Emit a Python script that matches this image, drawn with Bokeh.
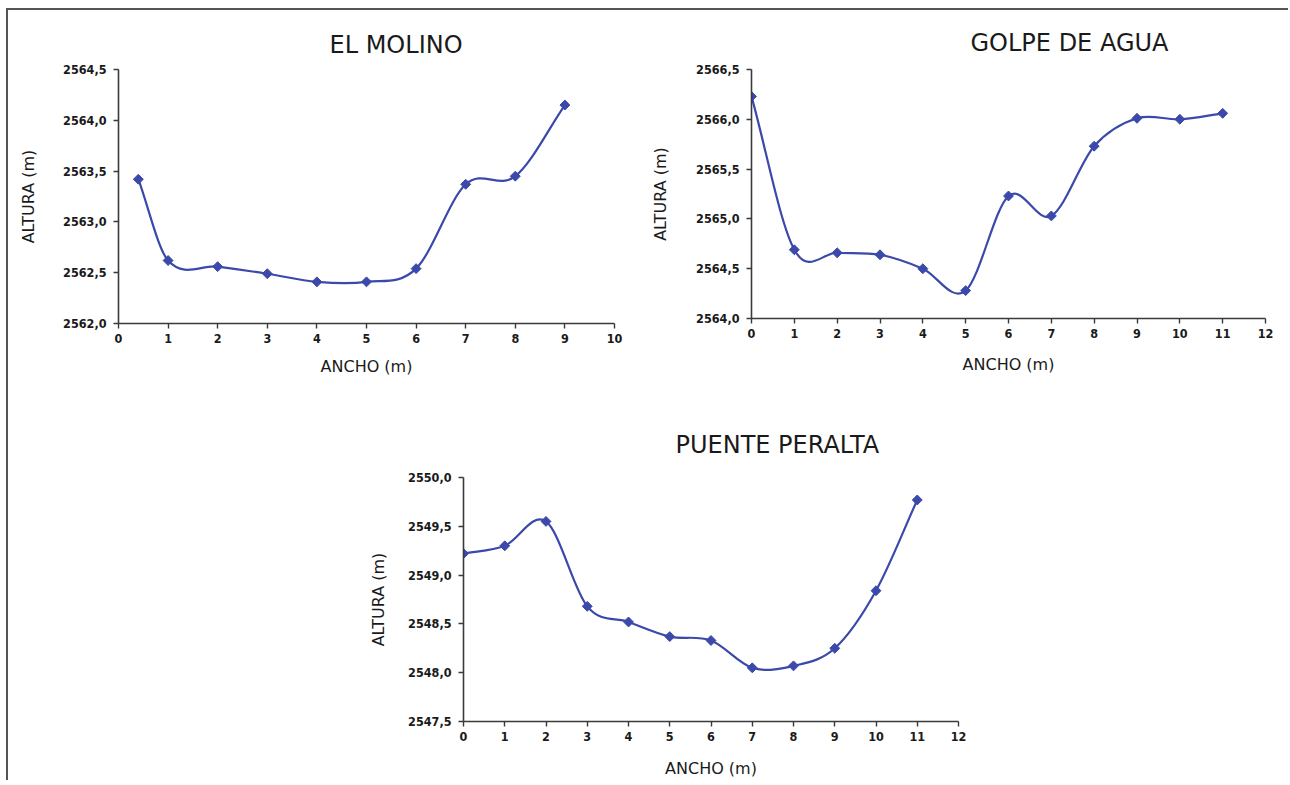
import numpy as np
from bokeh.plotting import figure
from bokeh.layouts import column, row
from bokeh.models import Range1d, FixedTicker, CustomJSTickFormatter, Spacer
from bokeh.embed import file_html
from bokeh.resources import INLINE

# ---------------- data ----------------
molino_x = [0.4, 1, 2, 3, 4, 5, 6, 7, 8, 9]
molino_y = [2563.42, 2562.62, 2562.56, 2562.49, 2562.41, 2562.41, 2562.54, 2563.37, 2563.45, 2564.15]

golpe_x = [0, 1, 2, 3, 4, 5, 6, 7, 8, 9, 10, 11]
golpe_y = [2566.23, 2564.69, 2564.66, 2564.64, 2564.50, 2564.28, 2565.23, 2565.03, 2565.73, 2566.01, 2566.00, 2566.06]

puente_x = [0, 1, 2, 3, 4, 5, 6, 7, 8, 9, 10, 11]
puente_y = [2549.22, 2549.30, 2549.55, 2548.68, 2548.52, 2548.37, 2548.33, 2548.05, 2548.07, 2548.25, 2548.84, 2549.77]

molino_xticks = [0, 1, 2, 3, 4, 5, 6, 7, 8, 9, 10]
golpe_xticks = [0, 1, 2, 3, 4, 5, 6, 7, 8, 9, 10, 11, 12]
puente_xticks = [0, 1, 2, 3, 4, 5, 6, 7, 8, 9, 10, 11, 12]

molino_yticks = [2562.0, 2562.5, 2563.0, 2563.5, 2564.0, 2564.5]
golpe_yticks = [2564.0, 2564.5, 2565.0, 2565.5, 2566.0, 2566.5]
puente_yticks = [2547.5, 2548.0, 2548.5, 2549.0, 2549.5, 2550.0]

titles = ["EL MOLINO", "GOLPE DE AGUA", "PUENTE PERALTA"]
x_label = "ANCHO (m)"
y_label = "ALTURA (m)"

LINE = "#3a49aa"
AXIS = "#3a3a3a"
TXT = "#1a1a1a"


def smooth_segments(xs, ys):
    """Catmull-Rom style smooth curve through the points, as cubic Bezier segments."""
    x = np.asarray(xs, float)
    y = np.asarray(ys, float)
    n = len(x)
    h = np.diff(x)
    d = np.empty(n)
    d[1:-1] = (y[2:] - y[:-2]) / (x[2:] - x[:-2])
    d[0] = (y[1] - y[0]) / h[0]
    d[-1] = (y[-1] - y[-2]) / h[-1]
    return dict(
        x0=x[:-1], y0=y[:-1], x1=x[1:], y1=y[1:],
        cx0=x[:-1] + h / 3, cy0=y[:-1] + d[:-1] * h / 3,
        cx1=x[1:] - h / 3, cy1=y[1:] - d[1:] * h / 3,
    )


def make_chart(title, xs, ys, xticks, yticks, frame_w, frame_h, borders,
               title_offset, title_standoff, ylab_standoff, xlab_standoff):
    left, right, top, bottom = borders
    p = figure(
        frame_width=frame_w, frame_height=frame_h,
        min_border_left=left, min_border_right=right,
        min_border_top=top, min_border_bottom=bottom,
        x_range=Range1d(xticks[0], xticks[-1]),
        y_range=Range1d(yticks[0], yticks[-1]),
        output_backend="svg", toolbar_location=None, tools="",
        background_fill_color="white", border_fill_color="white",
    )
    p.outline_line_color = None
    p.grid.visible = False

    p.title.text = title
    p.title.text_font = "DejaVu Sans"
    p.title.text_font_size = "24px"
    p.title.text_font_style = "normal"
    p.title.text_color = TXT
    p.title.align = "left"
    p.title.offset = title_offset
    p.title.standoff = title_standoff

    for ax in (p.xaxis[0], p.yaxis[0]):
        ax.axis_line_color = AXIS
        ax.axis_line_width = 1.6
        ax.major_tick_line_color = AXIS
        ax.major_tick_line_width = 1.4
        ax.major_tick_in = 0
        ax.major_tick_out = 5
        ax.minor_tick_line_color = None
        ax.major_label_text_font = "DejaVu Sans Condensed"
        ax.major_label_text_font_style = "bold"
        ax.major_label_text_font_size = "12.5px"
        ax.major_label_text_color = TXT
        ax.axis_label_text_font = "DejaVu Sans"
        ax.axis_label_text_font_style = "normal"
        ax.axis_label_text_font_size = "16px"
        ax.axis_label_text_color = TXT

    p.xaxis.ticker = FixedTicker(ticks=xticks)
    p.yaxis.ticker = FixedTicker(ticks=yticks)
    p.yaxis.formatter = CustomJSTickFormatter(code="return tick.toFixed(1).replace('.', ',');")
    p.xaxis.major_label_standoff = 5
    p.yaxis.major_label_standoff = 7
    p.xaxis.axis_label = x_label
    p.yaxis.axis_label = y_label
    p.xaxis.axis_label_standoff = xlab_standoff
    p.yaxis.axis_label_standoff = ylab_standoff

    seg = smooth_segments(xs, ys)
    p.bezier(line_color=LINE, line_width=2.2, **seg)
    p.scatter(xs, ys, marker="square", angle=np.pi / 4, size=7,
              fill_color=LINE, line_color=LINE)
    return p


f1 = make_chart(titles[0], molino_x, molino_y, molino_xticks, molino_yticks,
                496, 254, (110, 20, 59, 60), 211, 21, 22, 11)
f2 = make_chart(titles[1], golpe_x, golpe_y, golpe_xticks, golpe_yticks,
                514, 249, (117, 23, 59, 65), 219, 26, 23, 14)
f3 = make_chart(titles[2], puente_x, puente_y, puente_xticks, puente_yticks,
                495, 244, (125, 20, 94, 55), 212, 37, 17, 15)

layout = column(
    row(f1, f2),
    row(Spacer(width=330, height=10), f3),
    margin=(8, 0, 0, 6),
    styles={"border-top": "2px solid #555555", "border-left": "2px solid #555555"},
)

open("out.html", "w").write(file_html(layout, INLINE))
